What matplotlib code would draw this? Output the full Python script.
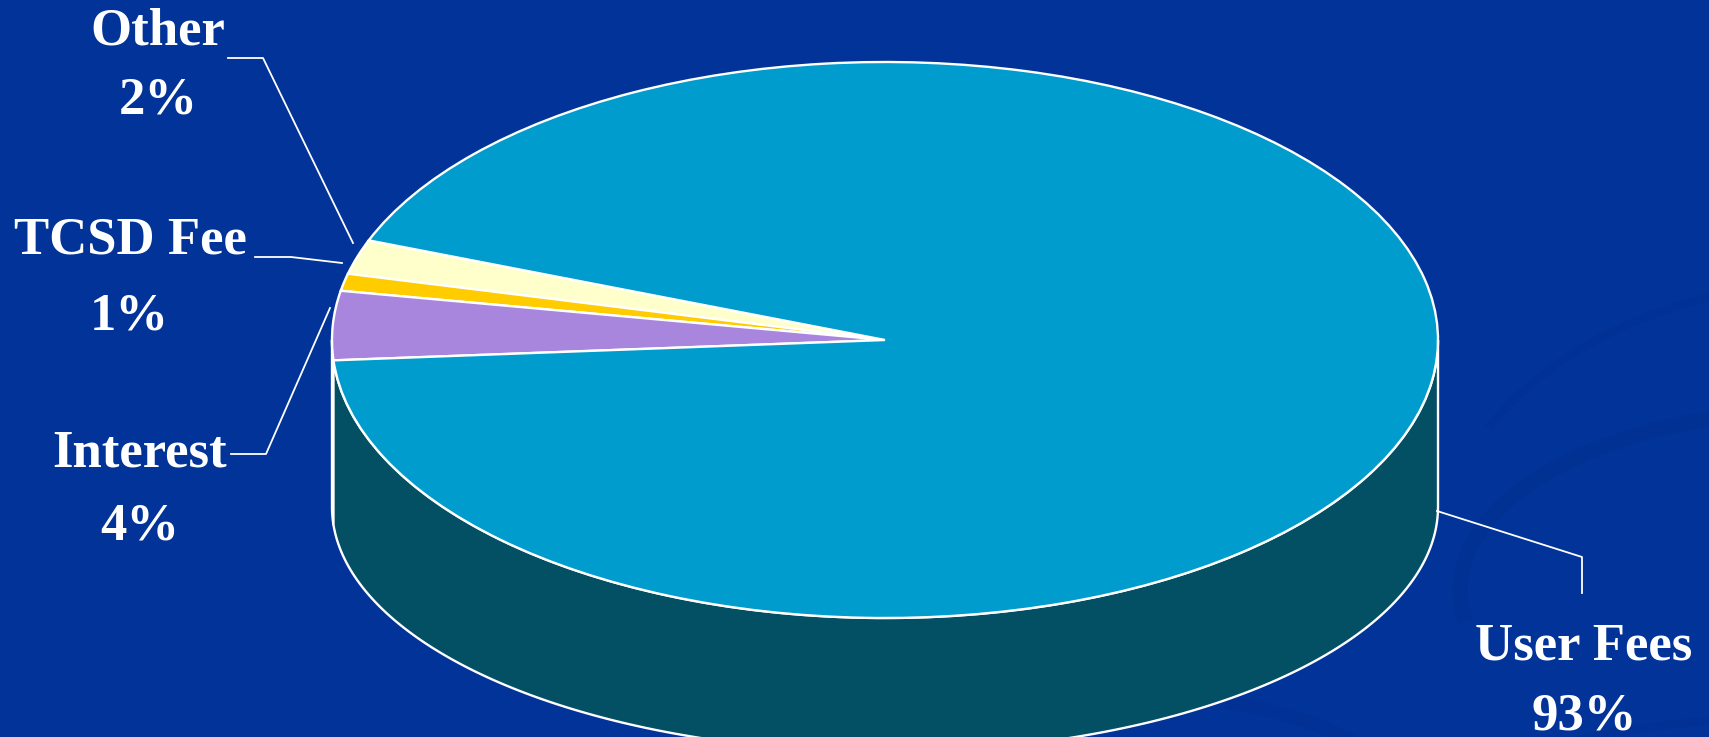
import numpy as np
import matplotlib.pyplot as plt
from matplotlib.patches import Wedge, Polygon, Arc
from matplotlib.transforms import Affine2D

# revenue split, counter-clockwise starting at the upper-left slice
labels = ['Other', 'TCSD Fee', 'Interest', 'User Fees']
values = [2, 1, 4, 93]
top_colors = ['#FFFFCC', '#FFCC00', '#A886DD', '#009CCD']
side_colors = ['#8C8C70', '#8C7000', '#5C4A7A', '#034F63']
start_angle = 159.0

# label text anchors and leader lines (pixel coords)
label_pos = [(158, 31), (130, 240), (140, 453), (1584, 646)]
pct_pos = [(158, 100), (129, 316), (140, 527), (1584, 716)]
leaders = [
    [(228, 58), (263, 58), (353, 243)],
    [(255, 257), (291, 257), (342, 263)],
    [(231, 454), (266, 454), (330, 308)],
    [(1437, 511), (1582, 557), (1582, 593)],
]

W, H = 1709, 737
bg = '#023399'

fig = plt.figure(figsize=(W / 100, H / 100), dpi=100, facecolor=bg)
ax = fig.add_axes([0, 0, 1, 1])
ax.set_facecolor(bg)
ax.set_xlim(0, W)
ax.set_ylim(H, 0)
ax.axis('off')

# faint swirls in the slide background (y axis is flipped, so 180..270 is upper-left)
swirl = '#01308F'
ax.add_patch(Arc((1820, 590), 720, 360, theta1=175, theta2=268, color=swirl, lw=11, alpha=0.6))
ax.add_patch(Arc((1850, 560), 820, 560, theta1=200, theta2=255, color=swirl, lw=6, alpha=0.4))
ax.add_patch(Arc((1180, 960), 640, 520, theta1=280, theta2=340, color=swirl, lw=10, alpha=0.4))
ax.add_patch(Arc((1760, 900), 800, 360, theta1=215, theta2=262, color=swirl, lw=6, alpha=0.35))

# pie geometry: top face and (slightly flatter) bottom face
cx, cy, rx, ry = 885, 340, 553, 278
cyb, ryb = 507, 245

fracs = np.array(values, dtype=float) / sum(values)
bounds = start_angle + 360 * np.concatenate([[0], np.cumsum(fracs)])

# side walls - only the front half (180..360 deg) is visible
for i in range(len(values)):
    a, b = bounds[i], bounds[i + 1]
    for k in (0, 360):
        lo = max(a, 180 + k)
        hi = min(b, 360 + k)
        if hi <= lo:
            continue
        t = np.radians(np.linspace(lo, hi, 200))
        top = np.column_stack([cx + rx * np.cos(t), cy - ry * np.sin(t)])
        bot = np.column_stack([cx + rx * np.cos(t), cyb - ryb * np.sin(t)])
        pts = np.vstack([top, bot[::-1]])
        ax.add_patch(Polygon(pts, closed=True, facecolor=side_colors[i],
                             edgecolor='white', lw=1.7, zorder=2))

# top face wedges, unit pie squashed into the ellipse
squash = Affine2D().scale(rx, -ry).translate(cx, cy) + ax.transData
for i in range(len(values)):
    w = Wedge((0, 0), 1, bounds[i], bounds[i + 1], facecolor=top_colors[i],
              edgecolor='white', lw=1.7, zorder=3)
    w.set_transform(squash)
    ax.add_patch(w)

# labels with leader lines
font = dict(family='Liberation Serif', weight='bold', size=38, color='white',
            ha='center', va='center')
for i in range(len(values)):
    ax.text(*label_pos[i], labels[i], **font)
    ax.text(*pct_pos[i], f'{values[i]}%', **font)
    xs, ys = zip(*leaders[i])
    ax.plot(xs, ys, color='white', lw=1.3, zorder=4)

fig.savefig('out.png', dpi=100, facecolor=bg)
